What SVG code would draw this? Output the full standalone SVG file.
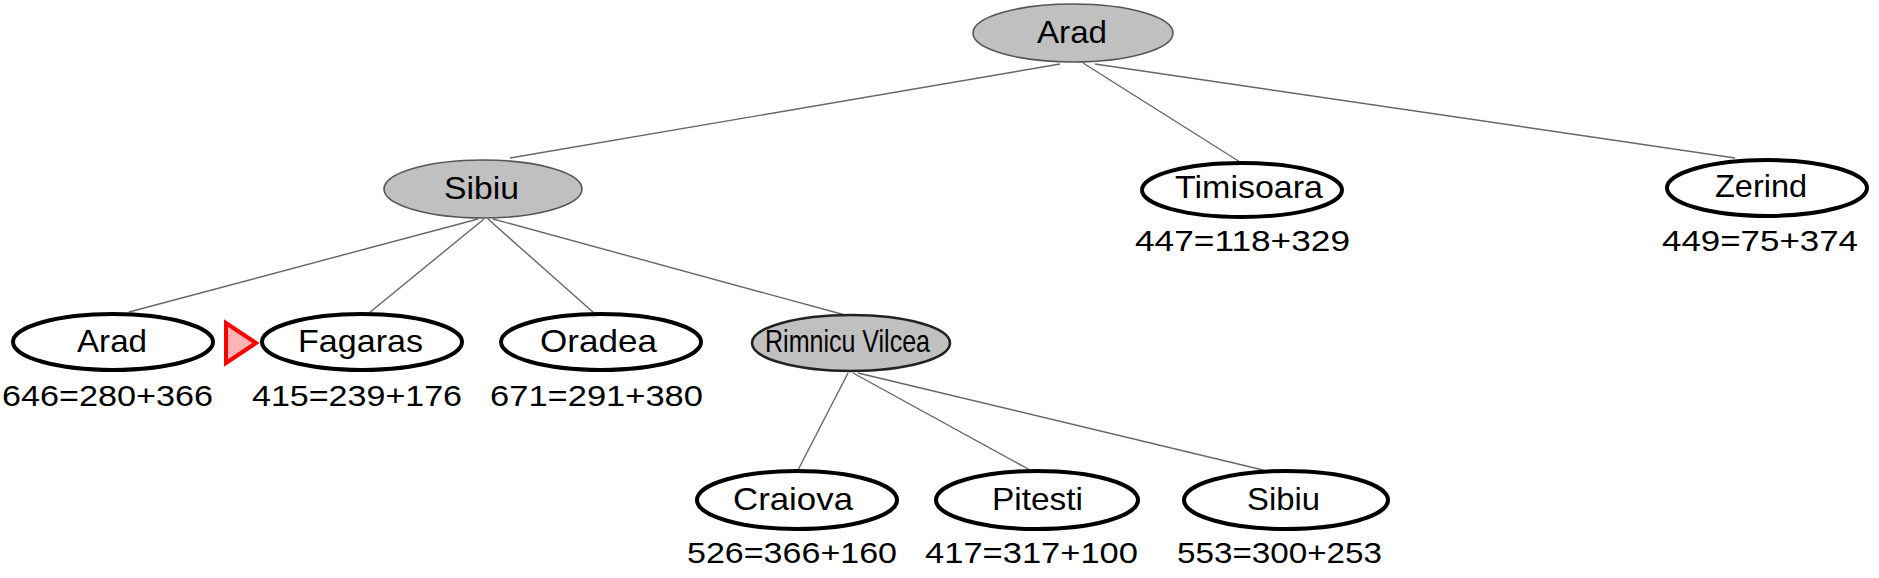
<svg xmlns="http://www.w3.org/2000/svg" width="1879" height="578" viewBox="0 0 1879 578">
<style>
.edge{stroke:#666;stroke-width:1.4;fill:none}
.open{fill:#fff;stroke:#000;stroke-width:4}
.closed{fill:#c0c0c0;stroke:#555;stroke-width:1.6}
.current{fill:#c0c0c0;stroke:#222;stroke-width:2.6}
.name{font-family:"Liberation Sans",Arial,sans-serif;font-size:32px;text-anchor:middle;fill:#000}
.cost{font-family:"Liberation Sans",Arial,sans-serif;font-size:30px;text-anchor:middle;fill:#000}
</style>
<rect width="1879" height="578" fill="#fff"/>
<g id="connectors">
<line class="edge" x1="1060" y1="64" x2="510" y2="158"/>
<line class="edge" x1="1083" y1="63" x2="1240" y2="162"/>
<line class="edge" x1="1095" y1="64" x2="1735" y2="158"/>
<line class="edge" x1="478" y1="219" x2="129" y2="312"/>
<line class="edge" x1="484" y1="219" x2="369" y2="313"/>
<line class="edge" x1="488" y1="219" x2="594" y2="313"/>
<line class="edge" x1="493" y1="219" x2="845" y2="315"/>
<line class="edge" x1="848" y1="373" x2="798" y2="470"/>
<line class="edge" x1="853" y1="373" x2="1030" y2="470"/>
<line class="edge" x1="858" y1="373" x2="1263" y2="470"/>
</g>
<g id="node-arad-root">
<ellipse class="closed" cx="1073" cy="33" rx="100" ry="29"/>
<text class="name" x="1072" y="43" textLength="70" lengthAdjust="spacingAndGlyphs">Arad</text>
</g>
<g id="node-sibiu">
<ellipse class="closed" cx="483" cy="189" rx="99" ry="29"/>
<text class="name" x="481.5" y="199" textLength="75" lengthAdjust="spacingAndGlyphs">Sibiu</text>
</g>
<g id="node-timisoara">
<ellipse class="open" cx="1242" cy="190" rx="100" ry="27"/>
<text class="name" x="1249" y="198" textLength="148" lengthAdjust="spacingAndGlyphs">Timisoara</text>
<text class="cost" x="1242.5" y="251" textLength="215" lengthAdjust="spacingAndGlyphs">447=118+329</text>
</g>
<g id="node-zerind">
<ellipse class="open" cx="1767" cy="188" rx="100" ry="28"/>
<text class="name" x="1761" y="197" textLength="92" lengthAdjust="spacingAndGlyphs">Zerind</text>
<text class="cost" x="1760" y="251" textLength="196" lengthAdjust="spacingAndGlyphs">449=75+374</text>
</g>
<g id="node-arad">
<ellipse class="open" cx="113" cy="342" rx="100" ry="28"/>
<text class="name" x="112" y="352" textLength="70" lengthAdjust="spacingAndGlyphs">Arad</text>
<text class="cost" x="107.5" y="406" textLength="211" lengthAdjust="spacingAndGlyphs">646=280+366</text>
</g>
<g id="marker-current">
<polygon points="226,323 226,363 256,343" fill="#ffb4b4" stroke="#ff0000" stroke-width="4" stroke-linejoin="miter"/>
</g>
<g id="node-fagaras">
<ellipse class="open" cx="362" cy="342" rx="100" ry="28"/>
<text class="name" x="360.5" y="352" textLength="125" lengthAdjust="spacingAndGlyphs">Fagaras</text>
<text class="cost" x="357" y="406" textLength="210" lengthAdjust="spacingAndGlyphs">415=239+176</text>
</g>
<g id="node-oradea">
<ellipse class="open" cx="601" cy="342" rx="100" ry="28"/>
<text class="name" x="598.5" y="352" textLength="117" lengthAdjust="spacingAndGlyphs">Oradea</text>
<text class="cost" x="596.5" y="406" textLength="213" lengthAdjust="spacingAndGlyphs">671=291+380</text>
</g>
<g id="node-rimnicu-vilcea">
<ellipse class="current" cx="851" cy="343" rx="99" ry="28"/>
<text class="name" x="847.5" y="352" textLength="165" lengthAdjust="spacingAndGlyphs">Rimnicu Vilcea</text>
</g>
<g id="node-craiova">
<ellipse class="open" cx="797" cy="500" rx="100" ry="29"/>
<text class="name" x="793" y="510" textLength="120" lengthAdjust="spacingAndGlyphs">Craiova</text>
<text class="cost" x="792" y="563" textLength="210" lengthAdjust="spacingAndGlyphs">526=366+160</text>
</g>
<g id="node-pitesti">
<ellipse class="open" cx="1037" cy="500" rx="101" ry="29"/>
<text class="name" x="1037.5" y="510" textLength="91" lengthAdjust="spacingAndGlyphs">Pitesti</text>
<text class="cost" x="1031.5" y="563" textLength="213" lengthAdjust="spacingAndGlyphs">417=317+100</text>
</g>
<g id="node-sibiu-2">
<ellipse class="open" cx="1286" cy="500" rx="102" ry="29"/>
<text class="name" x="1283.5" y="510" textLength="73" lengthAdjust="spacingAndGlyphs">Sibiu</text>
<text class="cost" x="1279.5" y="563" textLength="205" lengthAdjust="spacingAndGlyphs">553=300+253</text>
</g>
</svg>
